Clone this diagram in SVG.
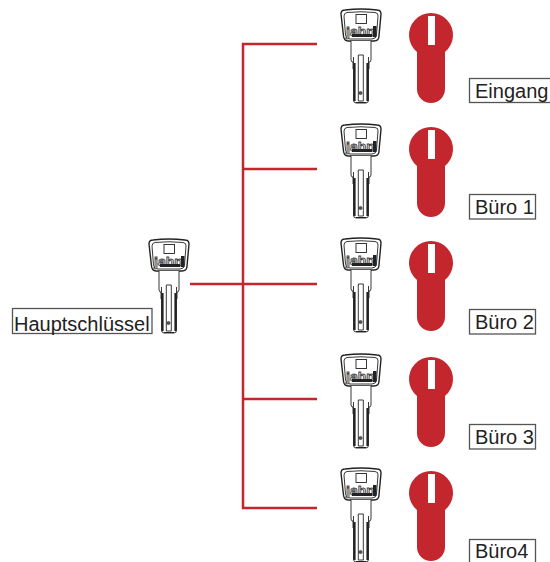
<svg xmlns="http://www.w3.org/2000/svg" width="550" height="562" viewBox="0 0 550 562">
<style>
.ln{stroke:#c4262e;stroke-width:2.5;fill:none}
.k{fill:#fff;stroke:#222;stroke-width:.9}
.b{fill:none;stroke:#222;stroke-width:2.200}
.lk{fill:#c4262e}
.lb{fill:#fff;stroke:#555;stroke-width:1.300}
.t{font-family:"Liberation Sans",Arial,sans-serif;font-size:20px;fill:#222}
.j{font-family:"Liberation Sans",Arial,sans-serif;font-size:13px;font-weight:bold;fill:#ddd;stroke:#444;stroke-width:.8}
</style>
<defs>
<g id="key">
<path class="k" style="stroke-width:1.400" d="M4 1 Q20 -1 36 1 Q40 1 40 5 L38 27 Q38 32 33 32 L7 32 Q3 32 2.500 27 L0 5 Q0 1 4 1Z"/>
<path class="k" d="M6 3.500 Q20 2 34 3.500 Q37.500 4 37 7 L35.500 26 Q35 30 31 30 L9 30 Q5 30 4.500 26 L3 7 Q3 4 6 3.500Z"/>
<rect class="k" x="15" y="5.500" width="10.500" height="9"/>
<text class="j" x="5" y="27" textLength="29" lengthAdjust="spacingAndGlyphs">jahn</text>
<rect x="11" y="25" width="20" height="3" fill="#222"/>
<rect x="32" y="17" width="3.500" height="11" fill="#222"/>
<path class="k" d="M10 32 V51 L11 53 H12 V60 H28 V53 H29 L30 51 V32"/>
<path class="k" d="M12.500 48 V91 Q12.500 94 15 94 H25 Q27.500 94 27.500 91 V48"/>
<path class="b" d="M13.500 54 V92 M26.500 54 V92"/>
<path class="k" d="M17.300 46 H22.300 V92 H17.300Z"/>
<circle cx="19.500" cy="84" r="1.600" fill="#555" stroke="#222" stroke-width=".6"/>
<path d="M15 93.500 H25" stroke="#222" stroke-width="1"/>
</g>
<g id="lock">
<path class="lk" d="M-14 39 A22 22 0 1 1 14 39 V76 A14 14 0 0 1 -14 76 Z"/>
<path fill="#fff" d="M-3 3 H4 V32 H-3Z"/>
</g>
</defs>
<g id="connectors">
<path class="ln" d="M317 44 H243 V508 H317 M317 169 H243 M190 284 H317 M317 399 H243"/>
</g>
<g id="master">
<use href="#key" x="149" y="239"/>
<rect class="lb" x="12.500" y="308.500" width="139.500" height="25"/>
<text class="t" x="14" y="331">Hauptschlüssel</text>
</g>
<g id="eingang">
<use href="#key" x="341" y="9"/><use href="#lock" x="431" y="13"/>
<rect class="lb" x="469.500" y="78.500" width="82" height="24"/>
<text class="t" x="475" y="98">Eingang</text>
</g>
<g id="buero1">
<use href="#key" x="341" y="124"/><use href="#lock" x="431" y="127"/>
<rect class="lb" x="469.500" y="194.500" width="66" height="24.500"/>
<text class="t" x="475" y="214">Büro 1</text>
</g>
<g id="buero2">
<use href="#key" x="341" y="238"/><use href="#lock" x="431" y="241"/>
<rect class="lb" x="469.500" y="309.500" width="66" height="24.500"/>
<text class="t" x="475" y="329">Büro 2</text>
</g>
<g id="buero3">
<use href="#key" x="341" y="354"/><use href="#lock" x="431" y="357"/>
<rect class="lb" x="469.500" y="424.500" width="66" height="24.500"/>
<text class="t" x="475" y="444">Büro 3</text>
</g>
<g id="buero4">
<use href="#key" x="341" y="468"/><use href="#lock" x="431" y="471"/>
<rect class="lb" x="469.500" y="539.500" width="66" height="25"/>
<text class="t" x="475" y="557.500">Büro4</text>
</g>
</svg>
